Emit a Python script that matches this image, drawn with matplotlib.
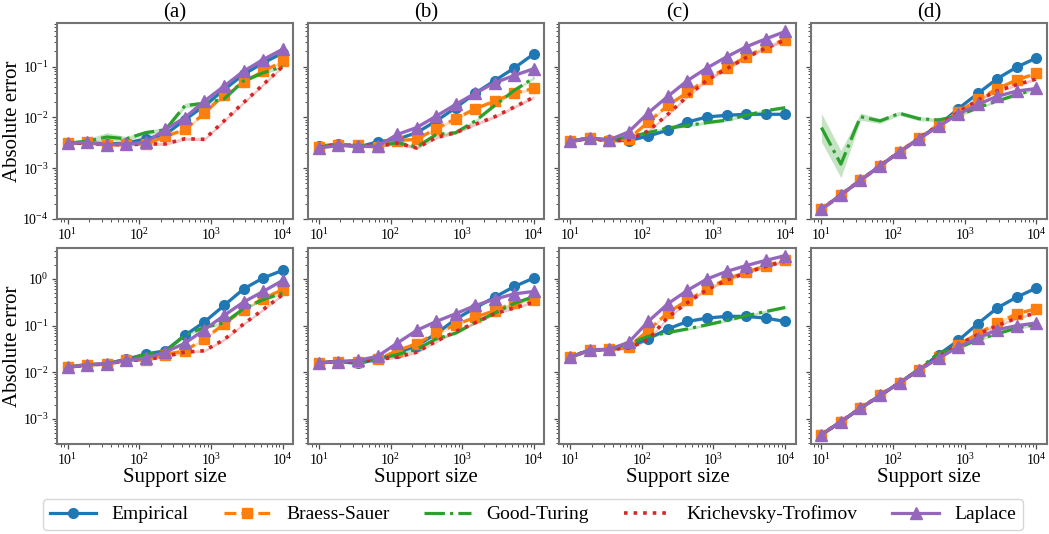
import numpy as np
import matplotlib
matplotlib.use("Agg")
import matplotlib.pyplot as plt

plt.rcParams['font.family'] = ['Liberation Serif', 'DejaVu Serif']
plt.rcParams['mathtext.fontset'] = 'stix'

# ---------------- data ----------------
support = [10, 18.7, 35.1, 65.8, 123, 231, 433, 811, 1520, 2848, 5337, 10000]
panel_titles = ['(a)', '(b)', '(c)', '(d)']
estimators = ['Empirical', 'Braess-Sauer', 'Good-Turing', 'Krichevsky-Trofimov', 'Laplace']

# top row, panels (a)-(d)
emp_top = [
    [3.1e-3, 3.2e-3, 3.0e-3, 3.1e-3, 3.8e-3, 4.6e-3, 9.0e-3, 0.017, 0.035, 0.070, 0.118, 0.185],
    [2.7e-3, 3.0e-3, 2.6e-3, 3.3e-3, 3.7e-3, 5.0e-3, 8.5e-3, 0.0155, 0.030, 0.053, 0.094, 0.178],
    [3.4e-3, 3.9e-3, 3.6e-3, 3.5e-3, 4.3e-3, 5.6e-3, 8.1e-3, 0.0102, 0.011, 0.0115, 0.0115, 0.0115],
    [1.55e-4, 3.0e-4, 5.8e-4, 1.12e-3, 2.1e-3, 3.9e-3, 7.0e-3, 0.0148, 0.0295, 0.058, 0.098, 0.148],
]
bs_top = [
    [3.1e-3, 3.3e-3, 2.8e-3, 3.0e-3, 3.0e-3, 4.2e-3, 5.8e-3, 0.012, 0.028, 0.049, 0.081, 0.126],
    [2.6e-3, 2.9e-3, 2.8e-3, 2.6e-3, 3.5e-3, 3.7e-3, 6.0e-3, 9.4e-3, 0.0148, 0.021, 0.030, 0.037],
    [3.4e-3, 3.9e-3, 3.4e-3, 3.8e-3, 8.1e-3, 0.0172, 0.031, 0.057, 0.094, 0.155, 0.245, 0.34],
    [1.55e-4, 3.0e-4, 5.8e-4, 1.12e-3, 2.1e-3, 3.9e-3, 7.3e-3, 0.0127, 0.0225, 0.0365, 0.055, 0.073],
]
gt_top = [
    [3.1e-3, 3.4e-3, 4.1e-3, 3.8e-3, 5.0e-3, 5.7e-3, 0.017, 0.019, 0.023, 0.052, 0.075, 0.100],
    [2.6e-3, 2.9e-3, 2.8e-3, 2.7e-3, 3.2e-3, 2.6e-3, 4.6e-3, 5.0e-3, 8.5e-3, 0.0172, 0.034, 0.060],
    [3.4e-3, 3.9e-3, 3.7e-3, 4.1e-3, 5.0e-3, 6.2e-3, 6.9e-3, 7.9e-3, 8.8e-3, 0.011, 0.0135, 0.0155],
    [6.3e-3, 1.2e-3, 0.0103, 8.5e-3, 0.012, 9.4e-3, 8.9e-3, 0.0107, 0.0155, 0.021, 0.028, 0.036],
]
kt_top = [
    [3.1e-3, 3.1e-3, 2.9e-3, 2.9e-3, 3.0e-3, 3.0e-3, 3.8e-3, 3.7e-3, 8.5e-3, 0.0195, 0.044, 0.100],
    [2.6e-3, 2.9e-3, 2.8e-3, 2.7e-3, 3.1e-3, 2.5e-3, 4.0e-3, 5.0e-3, 7.3e-3, 0.0103, 0.016, 0.025],
    [3.4e-3, 3.9e-3, 3.4e-3, 3.6e-3, 5.4e-3, 0.0115, 0.026, 0.054, 0.090, 0.150, 0.230, 0.330],
    [1.55e-4, 3.0e-4, 5.8e-4, 1.12e-3, 2.1e-3, 3.9e-3, 7.0e-3, 0.0125, 0.022, 0.033, 0.044, 0.057],
]
lap_top = [
    [3.1e-3, 3.2e-3, 2.9e-3, 3.0e-3, 3.2e-3, 5.8e-3, 9.9e-3, 0.021, 0.041, 0.081, 0.137, 0.220],
    [2.5e-3, 2.8e-3, 2.7e-3, 2.7e-3, 4.6e-3, 6.3e-3, 0.0106, 0.018, 0.030, 0.048, 0.067, 0.091],
    [3.4e-3, 3.9e-3, 3.6e-3, 5.2e-3, 0.0123, 0.026, 0.053, 0.094, 0.155, 0.245, 0.350, 0.490],
    [1.55e-4, 3.0e-4, 5.8e-4, 1.12e-3, 2.1e-3, 3.8e-3, 6.7e-3, 0.0115, 0.018, 0.026, 0.033, 0.037],
]

# bottom row, panels (a)-(d)
emp_bot = [
    [0.0129, 0.0145, 0.0152, 0.019, 0.0245, 0.029, 0.062, 0.120, 0.27, 0.61, 1.05, 1.53],
    [0.016, 0.017, 0.0155, 0.019, 0.026, 0.037, 0.067, 0.138, 0.24, 0.41, 0.69, 1.05],
    [0.021, 0.030, 0.031, 0.035, 0.052, 0.085, 0.123, 0.145, 0.158, 0.158, 0.145, 0.123],
    [4.6e-4, 8.8e-4, 1.7e-3, 3.2e-3, 6.0e-3, 0.0113, 0.024, 0.048, 0.110, 0.240, 0.410, 0.640],
]
bs_bot = [
    [0.0129, 0.0145, 0.0152, 0.018, 0.0185, 0.024, 0.029, 0.052, 0.108, 0.22, 0.38, 0.59],
    [0.016, 0.017, 0.017, 0.019, 0.029, 0.041, 0.069, 0.104, 0.152, 0.21, 0.31, 0.35],
    [0.021, 0.030, 0.031, 0.035, 0.079, 0.19, 0.35, 0.61, 1.0, 1.39, 1.93, 2.5],
    [4.6e-4, 8.8e-4, 1.7e-3, 3.2e-3, 6.0e-3, 0.0113, 0.021, 0.039, 0.067, 0.114, 0.180, 0.230],
]
gt_bot = [
    [0.0129, 0.0145, 0.0152, 0.019, 0.024, 0.028, 0.062, 0.092, 0.114, 0.23, 0.36, 0.50],
    [0.016, 0.017, 0.017, 0.019, 0.024, 0.031, 0.052, 0.069, 0.117, 0.186, 0.30, 0.42],
    [0.021, 0.030, 0.031, 0.041, 0.059, 0.071, 0.085, 0.104, 0.129, 0.163, 0.20, 0.245],
    [4.6e-4, 8.8e-4, 1.7e-3, 3.2e-3, 6.0e-3, 0.0118, 0.026, 0.033, 0.050, 0.067, 0.089, 0.105],
]
kt_bot = [
    [0.0129, 0.0145, 0.0150, 0.018, 0.0185, 0.022, 0.027, 0.029, 0.050, 0.108, 0.22, 0.46],
    [0.016, 0.017, 0.017, 0.019, 0.021, 0.027, 0.046, 0.075, 0.115, 0.18, 0.24, 0.32],
    [0.021, 0.030, 0.031, 0.033, 0.050, 0.152, 0.31, 0.59, 0.93, 1.35, 1.85, 2.4],
    [4.6e-4, 8.8e-4, 1.7e-3, 3.2e-3, 6.0e-3, 0.0113, 0.021, 0.039, 0.064, 0.100, 0.146, 0.186],
]
lap_bot = [
    [0.0129, 0.0145, 0.0152, 0.018, 0.020, 0.027, 0.042, 0.082, 0.165, 0.32, 0.54, 0.93],
    [0.016, 0.017, 0.018, 0.022, 0.042, 0.079, 0.123, 0.18, 0.27, 0.37, 0.48, 0.54],
    [0.021, 0.030, 0.031, 0.044, 0.123, 0.295, 0.57, 1.0, 1.45, 1.93, 2.5, 3.16],
    [4.6e-4, 8.8e-4, 1.7e-3, 3.2e-3, 6.0e-3, 0.0113, 0.020, 0.035, 0.054, 0.082, 0.100, 0.114],
]

# multiplicative half-width of the shaded bands
band_default = 1.07
gt_band_top_a = [1.07, 1.1, 1.22, 1.1, 1.12, 1.1, 1.12, 1.1, 1.07, 1.07, 1.07, 1.07]
gt_band_top_d = [1.9, 1.85, 1.18, 1.12, 1.1, 1.1, 1.08, 1.06, 1.06, 1.06, 1.06, 1.06]

# ---------------- style ----------------
colors = ['#1f77b4', '#ff7f0e', '#2ca02c', '#d62728', '#9467bd']
linestyles = ['-', '--', '-.', ':', '-']
markers = ['o', 's', None, None, '^']
msizes = [7, 7, 0, 0, 8]
lwidths = [2.3, 2.3, 2.3, 2.6, 2.3]

fig, axes = plt.subplots(2, 4, figsize=(10.49, 5.34), dpi=100, sharey='row')
fig.subplots_adjust(left=0.0543, right=0.998, top=0.957, bottom=0.1685,
                    wspace=0.064, hspace=0.148)

rows = [[emp_top, bs_top, gt_top, kt_top, lap_top],
        [emp_bot, bs_bot, gt_bot, kt_bot, lap_bot]]
x = np.array(support)
handles = []
for r in range(2):
    for c in range(4):
        ax = axes[r, c]
        for k in range(5):
            y = np.array(rows[r][k][c])
            f = np.full(len(y), band_default)
            if r == 0 and k == 2 and c == 0:
                f = np.array(gt_band_top_a)
            if r == 0 and k == 2 and c == 3:
                f = np.array(gt_band_top_d)
            ax.fill_between(x, y / f, y * f, color=colors[k], alpha=0.28, lw=0)
            h, = ax.plot(x, y, color=colors[k], ls=linestyles[k], lw=lwidths[k],
                         marker=markers[k], ms=msizes[k], label=estimators[k])
            if r == 0 and c == 0:
                handles.append(h)
        ax.set_xscale('log')
        ax.set_yscale('log')
        ax.set_xlim(7.1, 14000)
        for s in ax.spines.values():
            s.set_color('0.45')
            s.set_linewidth(1.5)
        ax.tick_params(which='both', colors='0.3', labelcolor='black', labelsize=10, pad=2.5)
        ax.tick_params(which='major', length=3.5, width=0.9)
        ax.tick_params(which='minor', length=2, width=0.7)
        if r == 0:
            ax.set_title(panel_titles[c], fontsize=15, pad=4)
        else:
            ax.set_xlabel('Support size', fontsize=15, labelpad=0)
        if c == 0:
            ax.set_ylabel('Absolute error', fontsize=15)
            ax.yaxis.set_label_coords(-0.15, 0.5)

axes[0, 0].set_ylim(1e-4, 0.72)
axes[1, 0].set_ylim(2.9e-4, 4.6)

fig.legend(handles=handles, labels=estimators, loc='lower center',
           bbox_to_anchor=(0.508, -0.011), ncol=5, fontsize=14, frameon=True,
           edgecolor='0.8', fancybox=True, handlelength=2.4, columnspacing=1.8,
           borderpad=0.35, handletextpad=0.8)

fig.savefig('out.png', dpi=100)
